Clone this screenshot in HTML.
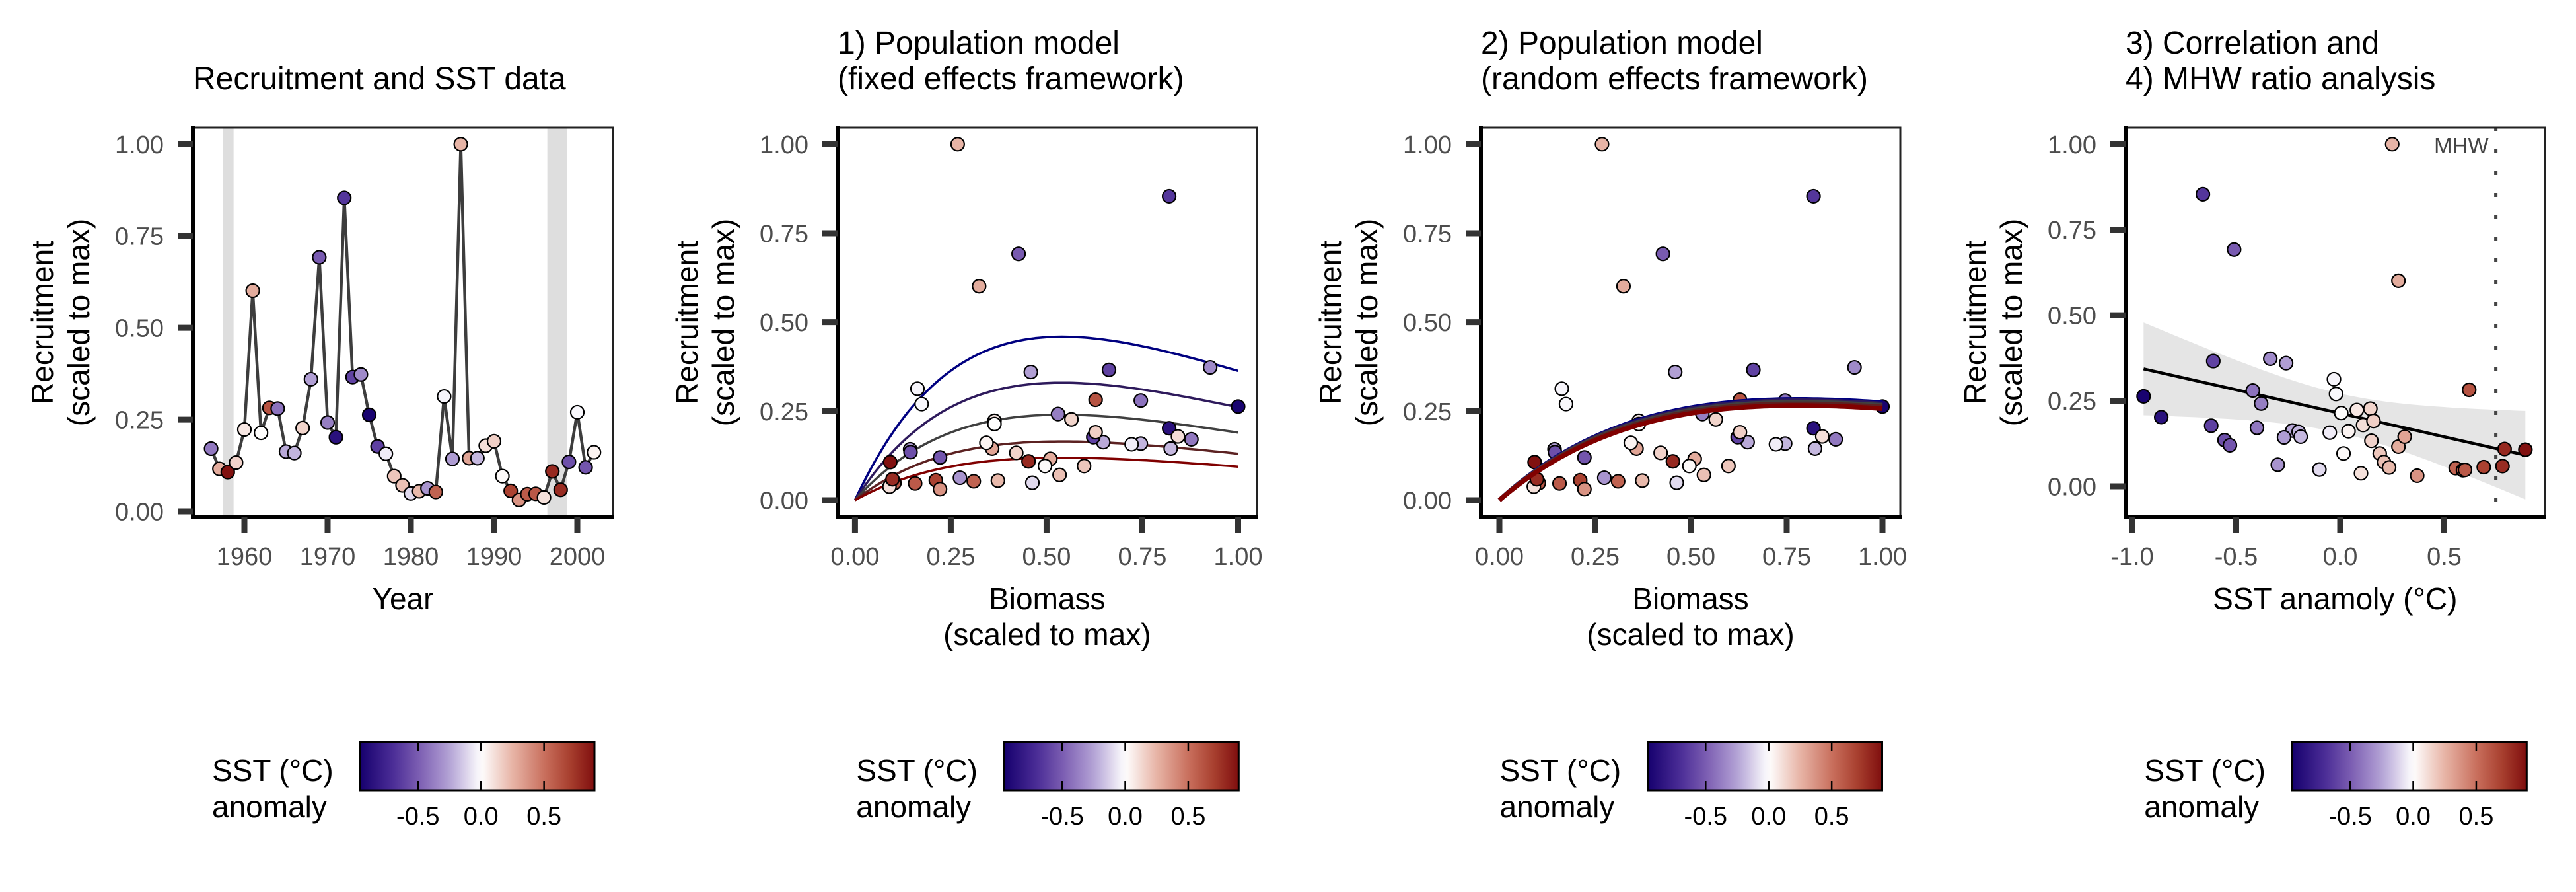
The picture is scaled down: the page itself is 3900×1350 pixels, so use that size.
<!DOCTYPE html>
<html><head><meta charset="utf-8">
<style>
html,body{margin:0;padding:0;background:#fff;}
svg{display:block;font-family:"Liberation Sans",Arial,sans-serif;}
</style></head>
<body>
<svg id="fig" width="3900" height="1350" viewBox="0 0 3900 1350" xmlns="http://www.w3.org/2000/svg">
<defs>
<linearGradient id="sstgrad" x1="0" x2="1" y1="0" y2="0"></linearGradient>
</defs>
</svg>
<script>
// ---------------- DATA ----------------
const years = [1956,1957,1958,1959,1960,1961,1962,1963,1964,1965,1966,1967,1968,1969,1970,1971,1972,1973,1974,1975,1976,1977,1978,1979,1980,1981,1982,1983,1984,1985,1986,1987,1988,1989,1990,1991,1992,1993,1994,1995,1996,1997,1998,1999,2000,2001,2002];
const recruitment = [0.171,0.116,0.107,0.133,0.223,0.601,0.214,0.282,0.280,0.163,0.159,0.227,0.360,0.692,0.242,0.202,0.854,0.366,0.373,0.263,0.177,0.157,0.096,0.071,0.049,0.055,0.063,0.053,0.313,0.143,1.0,0.145,0.145,0.179,0.191,0.096,0.056,0.031,0.047,0.048,0.038,0.109,0.059,0.135,0.270,0.120,0.161];
const sstAnomaly = [-0.40,0.28,0.89,0.15,0.08,0.28,0.005,0.62,-0.42,-0.23,-0.20,0.145,-0.26,-0.51,-0.38,-0.86,-0.66,-0.61,-0.336,-0.945,-0.62,-0.05,0.19,0.21,-0.10,0.235,-0.30,0.555,-0.03,-0.27,0.25,0.31,-0.19,0.11,0.16,0.016,0.69,0.37,0.59,0.60,0.10,0.79,0.78,-0.556,-0.02,-0.53,0.04];
const biomass = [0.878,0.51,0.092,0.421,0.364,0.324,0.364,0.628,0.746,0.648,0.746,0.565,0.459,0.427,0.53,0.82,0.82,0.663,0.927,1.0,0.622,0.722,0.598,0.534,0.463,0.373,0.274,0.31,0.163,0.144,0.268,0.358,0.824,0.843,0.628,0.496,0.211,0.222,0.157,0.103,0.09,0.453,0.098,0.145,0.174,0.222,0.343];
const mhwPeriods = [[1957.4,1958.7],[1996.4,1998.8]];
// Ricker curves R = a*B*exp(-b*B), one per SST level
const curveColors = ["#000080","#2e1a5c","#404040","#5c2222","#800000"];
const fixedA = [2.31,1.66,1.207,0.83,0.60];
const fixedB = 1.85;
const randomA = [0.985,0.972,0.957,0.942,0.925];
const randomB = 1.28;
const mhwThreshold = 0.748;
const yTicks = [0,0.25,0.5,0.75,1.0];
const yTickLabels = ["0.00","0.25","0.50","0.75","1.00"];
const yearTicks = [1960,1970,1980,1990,2000];
const bioTicks = [0,0.25,0.5,0.75,1.0];
const bioTickLabels = ["0.00","0.25","0.50","0.75","1.00"];
const sstTicks = [-1.0,-0.5,0.0,0.5];
const sstTickLabels = ["-1.0","-0.5","0.0","0.5"];
const legendTicks = [-0.5,0.0,0.5];
const legendTickLabels = ["-0.5","0.0","0.5"];

// ---------------- HELPERS ----------------
const NS="http://www.w3.org/2000/svg";
const svg=document.getElementById('fig');
function mk(tag,attrs,parent){const e=document.createElementNS(NS,tag);for(const k in attrs)e.setAttribute(k,attrs[k]);(parent||svg).appendChild(e);return e;}
function lin(d0,d1,r0,r1){return v=>r0+(v-d0)*(r1-r0)/(d1-d0);}
const colStops=[[-0.96,[22,0,110]],[-0.7,[75,45,150]],[-0.5,[122,92,177]],[-0.25,[179,162,213]],[0,[255,255,255]],[0.25,[231,180,166]],[0.5,[201,112,94]],[0.7,[169,64,47]],[0.9,[127,14,14]]];
function sstColor(v){
  if(v<=colStops[0][0])return rgb(colStops[0][1]);
  for(let i=1;i<colStops.length;i++){if(v<=colStops[i][0]){const a=colStops[i-1],b=colStops[i];const t=(v-a[0])/(b[0]-a[0]);return rgb(a[1].map((c,j)=>c+(b[1][j]-c)*t));}}
  return rgb(colStops[colStops.length-1][1]);
}
function rgb(c){return 'rgb('+c.map(x=>Math.round(x)).join(',')+')';}
const grad=document.getElementById('sstgrad');
for(let i=0;i<=40;i++){const v=-0.96+i*(1.86/40);const s=mk('stop',{offset:(i/40),'stop-color':sstColor(v)},grad);}

// ---------------- PANEL SETUP ----------------
const TOP=193,BOT=783;
const panels=[
 {id:'p1',L:292,R:928,x:lin(1960,2000,370,874),y:lin(0,1,774,218.3),title:["Recruitment and SST data"],xlab:["Year"],xt:yearTicks,xtl:yearTicks.map(String)},
 {id:'p2',L:1268,R:1902.6,x:lin(0,1,1294.4,1874.5),y:lin(0,1,757,218.3),title:["1) Population model","(fixed effects framework)"],xlab:["Biomass","(scaled to max)"],xt:bioTicks,xtl:bioTickLabels},
 {id:'p3',L:2242,R:2877,x:lin(0,1,2270,2850),y:lin(0,1,757,218.3),title:["2) Population model","(random effects framework)"],xlab:["Biomass","(scaled to max)"],xt:bioTicks,xtl:bioTickLabels},
 {id:'p4',L:3218,R:3852.6,x:lin(-1,0.5,3228,3700.5),y:lin(0,1,736,218.3),title:["3) Correlation and","4) MHW ratio analysis"],xlab:["SST anamoly (°C)"],xt:sstTicks,xtl:sstTickLabels}
];
panels.forEach((p,pi)=>{
  const cp=mk('clipPath',{id:'clip'+pi});
  mk('rect',{x:p.L,y:TOP,width:p.R-p.L,height:BOT-TOP},cp);
});

function drawPoints(p,pi,xs,ys){
  const g=mk('g',{'clip-path':'url(#clip'+pi+')'});
  
  
  for(let i=0;i<xs.length;i++){
    const c=mk('circle',{cx:p.x(xs[i]),cy:p.y(ys[i]),r:10,fill:sstColor(sstAnomaly[i]),stroke:'#000','stroke-width':2.2},g);
    
    
  }
}
function drawCurves(p,pi,A,B,w){
  const g=mk('g',{'clip-path':'url(#clip'+pi+')'});
  
  
  A.forEach((a,k)=>{
    let d='';
    for(let i=0;i<=100;i++){const b=i/100;const r=a*b*Math.exp(-B*b);d+=(i?'L':'M')+p.x(b).toFixed(1)+','+p.y(r).toFixed(1);}
    const path=mk('path',{d:d,fill:'none',stroke:curveColors[k],'stroke-width':w,'stroke-linejoin':'round'},g);
    
    
  });
}

// Panel 1
(function(){
  const p=panels[0];
  const g=mk('g',{'clip-path':'url(#clip0)'});
  
  
  mhwPeriods.forEach(m=>{mk('rect',{x:p.x(m[0]),y:TOP,width:p.x(m[1])-p.x(m[0]),height:BOT-TOP,fill:'#dedede'},g);});
  let d='';years.forEach((yr,i)=>{d+=(i?'L':'M')+p.x(yr).toFixed(1)+','+p.y(recruitment[i]).toFixed(1);});
  const ln=mk('path',{d:d,fill:'none',stroke:'#3d3d3d','stroke-width':4.5,'stroke-linejoin':'round'});
  
  
  drawPoints(p,0,years,recruitment);
})();
// Panel 2
drawCurves(panels[1],1,fixedA,fixedB,3.5);
drawPoints(panels[1],1,biomass,recruitment);
// Panel 3
drawPoints(panels[2],2,biomass,recruitment);
drawCurves(panels[2],2,randomA,randomB,7);
// Panel 4
(function(){
  const p=panels[3];
  const n=sstAnomaly.length;
  const mx=sstAnomaly.reduce((a,b)=>a+b,0)/n, my=recruitment.reduce((a,b)=>a+b,0)/n;
  let sxx=0,sxy=0;for(let i=0;i<n;i++){sxx+=(sstAnomaly[i]-mx)**2;sxy+=(sstAnomaly[i]-mx)*(recruitment[i]-my);}
  const b1=sxy/sxx,b0=my-b1*mx;
  let sse=0;for(let i=0;i<n;i++){sse+=(recruitment[i]-b0-b1*sstAnomaly[i])**2;}
  const s=Math.sqrt(sse/(n-2)),t=2.014;
  const xmin=Math.min(...sstAnomaly),xmax=Math.max(...sstAnomaly);
  let up='',lo=[];
  for(let i=0;i<=60;i++){const x=xmin+(xmax-xmin)*i/60;const f=b0+b1*x;const se=s*Math.sqrt(1/n+(x-mx)**2/sxx);
    up+=(i?'L':'M')+p.x(x).toFixed(1)+','+p.y(f+t*se).toFixed(1);lo.push(p.x(x).toFixed(1)+','+p.y(f-t*se).toFixed(1));}
  const g=mk('g',{'clip-path':'url(#clip3)'});
  
  
  const rib=mk('path',{d:up+'L'+lo.reverse().join('L')+'Z',fill:'#e5e5e5'},g);
  
  
  const mh=mk('line',{x1:p.x(mhwThreshold),x2:p.x(mhwThreshold),y1:TOP,y2:BOT,stroke:'#444','stroke-width':5,'stroke-dasharray':'6 27'},g);
  
  
  const fit=mk('line',{x1:p.x(xmin),y1:p.y(b0+b1*xmin),x2:p.x(xmax),y2:p.y(b0+b1*xmax),stroke:'#000','stroke-width':4.5},g);
  
  
  drawPoints(p,3,sstAnomaly,recruitment);
  const t2=mk('text',{x:p.x(mhwThreshold)-11,y:232,'font-size':33,fill:'#444','text-anchor':'end'});
  t2.textContent='MHW';
  
  
})();

// ---------------- AXES, TITLES, LEGENDS ----------------
panels.forEach((p,pi)=>{
  const g=mk('g',{});
  
  
  // border
  mk('rect',{x:p.L,y:TOP,width:p.R-p.L,height:BOT-TOP,fill:'none',stroke:'#222','stroke-width':3},g);
  mk('line',{x1:p.L,x2:p.L,y1:TOP-2,y2:BOT+3,stroke:'#000','stroke-width':6},g);
  mk('line',{x1:p.L-3,x2:p.R+2,y1:BOT,y2:BOT,stroke:'#000','stroke-width':6},g);
  // y ticks
  yTicks.forEach((v,i)=>{
    const y=p.y(v);
    mk('line',{x1:p.L-23,x2:p.L,y1:y,y2:y,stroke:'#333','stroke-width':9},g);
    const t=mk('text',{x:p.L-44,y:y+13.5,'font-size':38,fill:'#4d4d4d','text-anchor':'end'},g);
    t.textContent=yTickLabels[i];
    
    
  });
  // x ticks
  p.xt.forEach((v,i)=>{
    const x=p.x(v);
    mk('line',{x1:x,x2:x,y1:BOT,y2:BOT+23,stroke:'#333','stroke-width':9},g);
    const t=mk('text',{x:x,y:855,'font-size':38,fill:'#4d4d4d','text-anchor':'middle'},g);
    t.textContent=p.xtl[i];
    
    
  });
  // x title
  const cx=(p.L+p.R)/2;
  p.xlab.forEach((s,i)=>{
    const t=mk('text',{x:cx,y:922+i*54,'font-size':46,fill:'#000','text-anchor':'middle'},g);
    t.textContent=s;
    
    
  });
  // y title
  const off=p.L-292;
  ["Recruitment","(scaled to max)"].forEach((s,i)=>{
    const bx=80+off+i*55, by=488;
    const t=mk('text',{x:bx,y:by,'font-size':46,fill:'#000','text-anchor':'middle',transform:'rotate(-90 '+bx+' '+by+')'},g);
    t.textContent=s;
    
    
  });
  // plot title
  const tl=p.title.length;
  p.title.forEach((s,i)=>{
    const t=mk('text',{x:p.L,y:135-(tl-1-i)*54,'font-size':48,fill:'#000'},g);
    t.textContent=s;
    
    
  });
  // legend
  const lg=mk('g',{});
  
  
  const lx=cx-289, bx0=lx+224, bw=355;
  const lx1=mk('text',{x:lx,y:1182,'font-size':46,fill:'#000'},lg);lx1.textContent='SST (°C)';
  const lx2=mk('text',{x:lx,y:1237,'font-size':46,fill:'#000'},lg);lx2.textContent='anomaly';
  mk('rect',{x:bx0,y:1123,width:bw,height:73,fill:'url(#sstgrad)',stroke:'#000','stroke-width':3},lg);
  const lsc=lin(-0.96,0.9,bx0,bx0+bw);
  legendTicks.forEach((v,i)=>{
    const x=lsc(v);
    mk('line',{x1:x,x2:x,y1:1124.5,y2:1137,stroke:'#000','stroke-width':2.5},lg);
    mk('line',{x1:x,x2:x,y1:1182,y2:1194.5,stroke:'#000','stroke-width':2.5},lg);
    const t=mk('text',{x:x,y:1248,'font-size':38,fill:'#000','text-anchor':'middle'},lg);
    t.textContent=legendTickLabels[i];
  });
});
</script>
</body></html>
